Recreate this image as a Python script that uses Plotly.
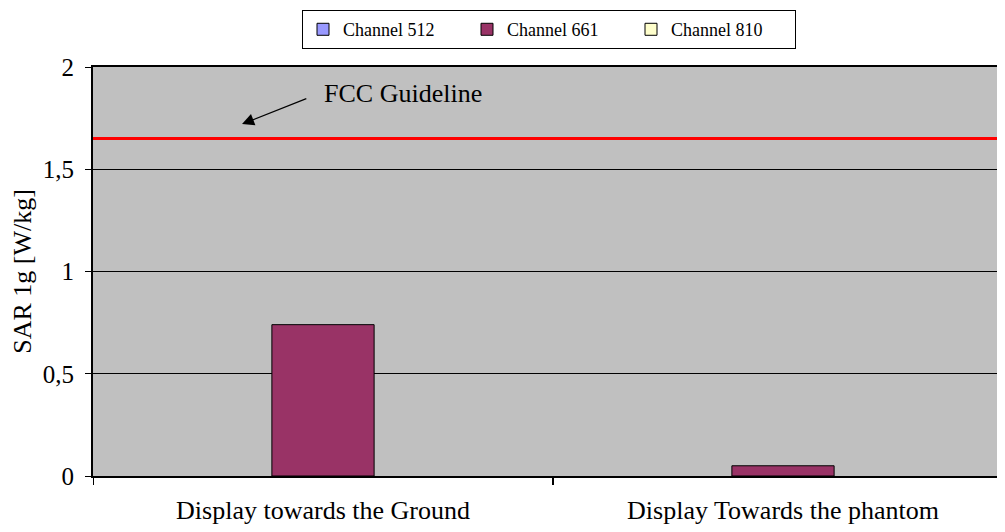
import plotly.graph_objects as go

categories = ["Display towards the Ground", "Display Towards the phantom"]
series_names = ["Channel 512", "Channel 661", "Channel 810"]
ch512 = [None, None]
ch661 = [0.74, 0.05]
ch810 = [None, None]
fcc_limit = 1.65
y_ticks = [0, 0.5, 1, 1.5, 2]
y_tick_labels = ["0", "0,5", "1", "1,5", "2"]

colors = ["#9999FF", "#993366", "#FFFFCC"]
font_family = "Liberation Serif"

fig = go.Figure()
xs = [0, 1]
for name, vals, col in zip(series_names, [ch512, ch661, ch810], colors):
    fig.add_trace(go.Bar(
        x=xs, y=vals, name=name,
        marker=dict(color=col, line=dict(color="black", width=1)),
    ))

fig.add_shape(type="line", xref="paper", x0=0, x1=1, yref="y", y0=fcc_limit, y1=fcc_limit,
              line=dict(color="#FF0000", width=3))

# arrow
fig.add_annotation(x=-0.176, y=1.721, ax=-0.033, ay=1.848, xref="x", yref="y",
                   axref="x", ayref="y", text="", showarrow=True,
                   arrowhead=2, arrowsize=2, arrowwidth=1.2, arrowcolor="black")
fig.add_annotation(x=-0.002, y=1.868, xref="x", yref="y", text="FCC Guideline",
                   showarrow=False, xanchor="left", yanchor="middle",
                   font=dict(family=font_family, size=26, color="black"))

fig.update_layout(
    width=997, height=522,
    margin=dict(l=85, r=0, t=59, b=54),
    paper_bgcolor="white",
    plot_bgcolor="#C0C0C0",
    barmode="group",
    bargap=1/3,
    bargroupgap=0,
    font=dict(family=font_family, size=20, color="black"),
    showlegend=True,
    legend=dict(orientation="h", x=0.5, xanchor="center",
                yref="container", y=0.996, yanchor="top",
                bgcolor="white", bordercolor="black", borderwidth=1,
                font=dict(family=font_family, size=18, color="black"),
                itemwidth=30, entrywidth=119, tracegroupgap=0),
    xaxis=dict(
        tickmode="array", tickvals=xs, ticktext=categories,
        range=[-0.5, -0.5 + 912/460],
        showline=True, linecolor="black", linewidth=2, mirror=True,
        ticks="outside", ticklen=10, tickcolor="rgba(0,0,0,0)",
        showgrid=False, zeroline=False,
        tickfont=dict(family=font_family, size=26),
    ),
    yaxis=dict(
        range=[0, 2], tickvals=y_ticks, ticktext=y_tick_labels,
        showline=True, linecolor="black", linewidth=2, mirror=False,
        ticks="outside", ticklen=6, tickcolor="black", ticklabelstandoff=6,
        showgrid=True, gridcolor="black", gridwidth=1, zeroline=False,
        tickfont=dict(family=font_family, size=25),
        title=dict(text="SAR 1g [W/kg]", font=dict(family=font_family, size=26), standoff=8),
    ),
)

# category boundary tick marks
for xb in [-0.5, 0.5]:
    fig.add_shape(type="line", xref="x", yref="paper", x0=xb, x1=xb, y0=0, y1=-0.022,
                  line=dict(color="black", width=2))

fig.write_html("out.html")
